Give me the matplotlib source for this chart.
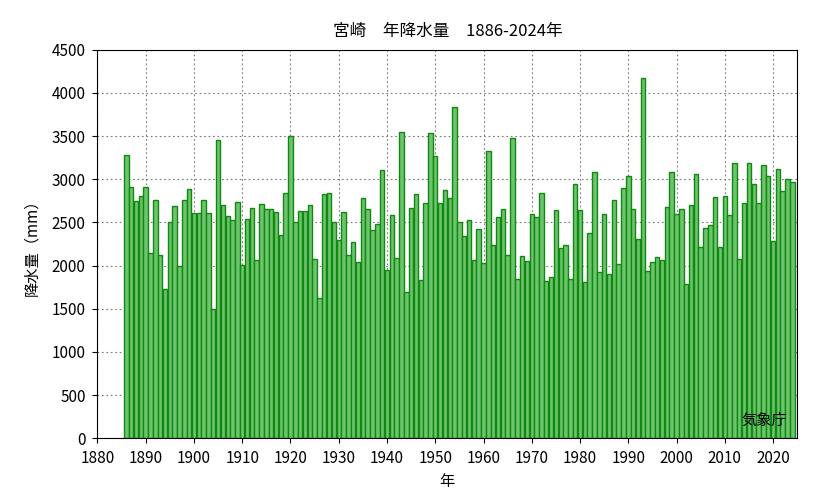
import matplotlib.pyplot as plt
import numpy as np

plt.rcParams['font.family'] = ['Noto Sans CJK JP', 'DejaVu Sans']

years = np.arange(1886, 2025)
rain = [
    3280, 2915, 2750, 2810, 2905, 2150, 2765, 2125, 1730, 2500,
    2695, 2000, 2765, 2885, 2610, 2610, 2765, 2605, 1500, 3450,
    2705, 2578, 2523, 2733, 2008, 2535, 2663, 2062, 2713, 2651,
    2659, 2616, 2357, 2841, 3500, 2508, 2628, 2628, 2705, 2074,
    1620, 2826, 2845, 2508, 2291, 2616, 2120, 2279, 2039, 2779,
    2651, 2407, 2481, 3109, 1946, 2581, 2085, 3550, 1698, 2667,
    2829, 1837, 2721, 3539, 3264, 2725, 2880, 2779, 3837, 2504,
    2340, 2530, 2060, 2420, 2030, 3330, 2240, 2560, 2650, 2120,
    3480, 1850, 2110, 2050, 2600, 2560, 2840, 1820, 1870, 2640,
    2200, 2240, 1850, 2950, 2640, 1810, 2380, 3090, 1930, 2600,
    1900, 2760, 2020, 2900, 3040, 2660, 2310, 4170, 1940, 2040,
    2100, 2070, 2680, 3090, 2600, 2650, 1790, 2700, 3060, 2220,
    2430, 2470, 2800, 2220, 2810, 2590, 3190, 2080, 2730, 3190,
    2950, 2720, 3170, 3040, 2280, 3120, 2860, 3000, 2970,
]

fig, ax = plt.subplots(figsize=(8.33, 4.98), dpi=100)
fig.subplots_adjust(left=0.117, right=0.957, top=0.9, bottom=0.12)
ax.bar(years, rain, width=0.92, color='#6cc46c', edgecolor='#118811', linewidth=1.0, zorder=2)
ax.set_xlim(1880, 2025)
ax.set_ylim(0, 4500)
ax.set_xticks(np.arange(1880, 2021, 10))
ax.set_yticks(np.arange(0, 4501, 500))
ax.grid(True, linestyle=(0, (1.5, 2.5)), color='#777777', linewidth=0.8, zorder=0)
ax.tick_params(direction='out', labelsize=11, pad=5)
ax.set_title('宮崎　年降水量　1886-2024年', fontsize=12, pad=10)
ax.set_xlabel('年', fontsize=11)
ax.set_ylabel('降水量（mm）', fontsize=11, labelpad=8)
ax.text(0.985, 0.025, '気象庁', transform=ax.transAxes, ha='right', va='bottom', fontsize=11)
fig.savefig('out.png')
